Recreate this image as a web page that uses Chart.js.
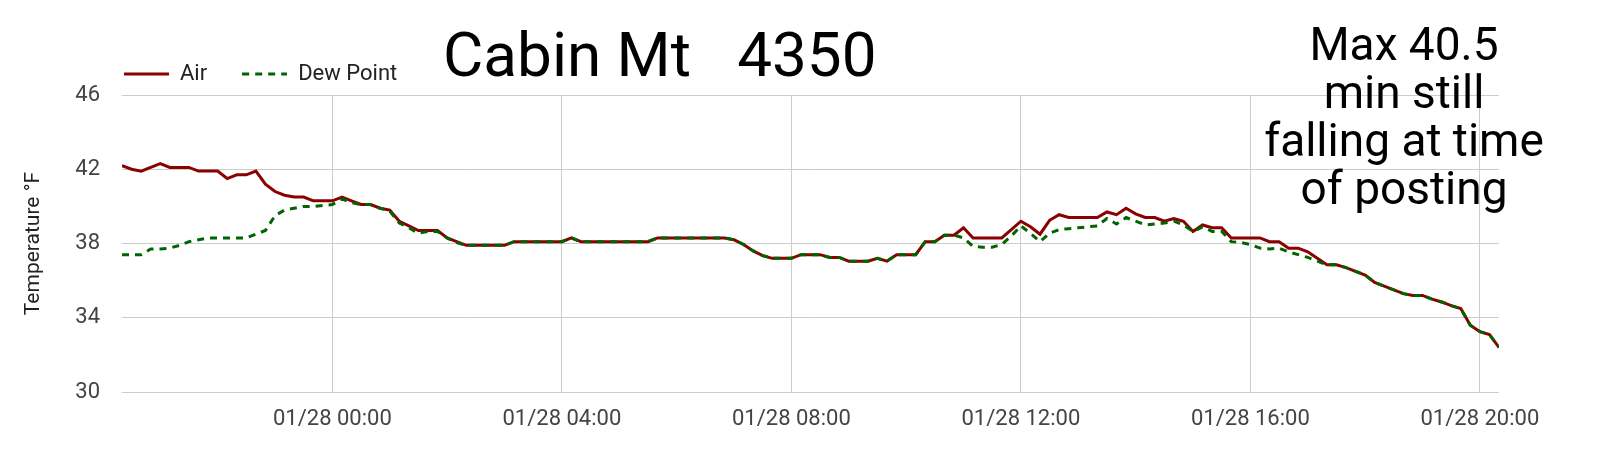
<!DOCTYPE html>
<html>
<head>
<meta charset="utf-8">
<title>Cabin Mt 4350</title>
<script src="https://cdn.jsdelivr.net/npm/chart.js@4/dist/chart.umd.min.js"></script>
<style>
    html, body { margin: 0; padding: 0; background: #fff; }
    #wrap { position: relative; width: 1600px; height: 459px; }
</style>
</head>
<body>
<div id="wrap"><canvas id="tempChart"></canvas></div>
<script>
// Cabin Mt 4350 - air / dew point, 10 minute samples

// first sample is 01/27 20:20, minutes are counted from 01/28 00:00
var START_MINUTE = -220;
var STEP_MINUTES = 10;

var airTemps = [
    42.2, 42.0, 41.9, 42.1, 42.3, 42.1, 42.1, 42.1, 41.9, 41.9, 41.9, 41.5,
    41.7, 41.7, 41.9, 41.2, 40.8, 40.6, 40.5, 40.5, 40.3, 40.3, 40.3, 40.5,
    40.3, 40.1, 40.1, 39.9, 39.8, 39.2, 38.95, 38.7, 38.7, 38.7, 38.3, 38.1,
    37.9, 37.9, 37.9, 37.9, 37.9, 38.1, 38.1, 38.1, 38.1, 38.1, 38.1, 38.3,
    38.1, 38.1, 38.1, 38.1, 38.1, 38.1, 38.1, 38.1, 38.3, 38.3, 38.3, 38.3,
    38.3, 38.3, 38.3, 38.3, 38.2, 37.95, 37.6, 37.35, 37.2, 37.2, 37.2, 37.4,
    37.4, 37.4, 37.25, 37.25, 37.05, 37.05, 37.05, 37.2, 37.05, 37.4, 37.4, 37.4,
    38.1, 38.1, 38.45, 38.45, 38.85, 38.3, 38.3, 38.3, 38.3, 38.75, 39.2, 38.9,
    38.5, 39.25, 39.55, 39.4, 39.4, 39.4, 39.4, 39.7, 39.55, 39.9, 39.6, 39.4,
    39.4, 39.2, 39.35, 39.2, 38.65, 39.0, 38.85, 38.85, 38.3, 38.3, 38.3, 38.3,
    38.1, 38.1, 37.75, 37.75, 37.55, 37.2, 36.85, 36.85, 36.7, 36.5, 36.3, 35.9,
    35.7, 35.5, 35.3, 35.2, 35.2, 35.0, 34.85, 34.65, 34.5, 33.6, 33.25, 33.1,
    32.4
];

var dewPoints = [
    37.4, 37.4, 37.4, 37.7, 37.7, 37.75, 37.9, 38.1, 38.2, 38.3, 38.3, 38.3,
    38.3, 38.3, 38.5, 38.7, 39.5, 39.8, 39.9, 40.0, 40.0, 40.05, 40.1, 40.4,
    40.2, 40.1, 40.1, 39.9, 39.75, 39.1, 38.85, 38.55, 38.65, 38.65, 38.3, 38.05,
    37.9, 37.9, 37.9, 37.9, 37.9, 38.1, 38.1, 38.1, 38.1, 38.1, 38.1, 38.3,
    38.1, 38.1, 38.1, 38.1, 38.1, 38.1, 38.1, 38.1, 38.3, 38.3, 38.3, 38.3,
    38.3, 38.3, 38.3, 38.3, 38.2, 37.95, 37.6, 37.35, 37.2, 37.2, 37.2, 37.4,
    37.4, 37.4, 37.25, 37.25, 37.05, 37.05, 37.05, 37.2, 37.05, 37.4, 37.4, 37.4,
    38.1, 38.1, 38.45, 38.45, 38.3, 37.85, 37.8, 37.8, 37.95, 38.4, 38.95, 38.55,
    38.1, 38.55, 38.75, 38.8, 38.85, 38.9, 38.95, 39.35, 39.05, 39.4, 39.2, 39.0,
    39.05, 39.1, 39.2, 39.0, 38.65, 38.9, 38.65, 38.65, 38.1, 38.05, 37.95, 37.75,
    37.7, 37.75, 37.55, 37.4, 37.25, 37.05, 36.85, 36.85, 36.7, 36.5, 36.3, 35.9,
    35.7, 35.5, 35.3, 35.2, 35.2, 35.0, 34.85, 34.65, 34.5, 33.6, 33.25, 33.1,
    32.4
];

var xTickMinutes = [0, 240, 480, 720, 960, 1200];
var xTickLabels = ['01/28 00:00', '01/28 04:00', '01/28 08:00', '01/28 12:00', '01/28 16:00', '01/28 20:00'];
var yTicks = [30, 34, 38, 42, 46];

var titleText = 'Cabin Mt   4350';
var noteLines = ['Max 40.5', 'min still', 'falling at time', 'of posting'];

var FONT = 'Roboto, "Noto Sans", sans-serif';
var AIR_COLOR = '#8b0000';
var DEW_COLOR = '#006400';
var DEW_DASH = [7, 6];

function toPoints(values) {
    return values.map(function (v, i) {
        return { x: START_MINUTE + i * STEP_MINUTES, y: v };
    });
}

// little line sample for the legend (pointStyle line ignores dashes)
function legendSwatch(color, dash) {
    var c = document.createElement('canvas');
    c.width = 45;
    c.height = 4;
    var g = c.getContext('2d');
    g.strokeStyle = color;
    g.lineWidth = 3;
    g.setLineDash(dash || []);
    g.beginPath();
    g.moveTo(0, 2);
    g.lineTo(45, 2);
    g.stroke();
    return c;
}

// title + note were pasted on top of the chart
var overlayText = {
    id: 'overlayText',
    afterLayout: function (chart) {
        // legend starts over the plot area, not at the canvas edge
        var lg = chart.legend;
        var pad = lg.options.labels.padding;
        var dx = 124 - (lg.left + pad);
        lg.left += dx;
        lg.right += dx;
    },
    afterDraw: function (chart) {
        var ctx = chart.ctx;
        ctx.save();
        ctx.fillStyle = '#000';
        ctx.textBaseline = 'alphabetic';
        ctx.textAlign = 'left';
        ctx.font = '62px ' + FONT;
        ctx.fillText(titleText, 443, 76);

        ctx.textAlign = 'center';
        ctx.font = '46px ' + FONT;
        for (var i = 0; i < noteLines.length; i++) {
            ctx.fillText(noteLines[i], 1404, 60 + i * 48);
        }
        ctx.restore();
    }
};

function initTempChart() {
    var ctx = document.getElementById('tempChart').getContext('2d');
    return new Chart(ctx, {
        type: 'line',
        data: {
            datasets: [{
                label: 'Dew Point',
                data: toPoints(dewPoints),
                borderColor: DEW_COLOR,
                backgroundColor: DEW_COLOR,
                borderWidth: 3,
                borderDash: DEW_DASH,
                pointRadius: 0,
                pointStyle: legendSwatch(DEW_COLOR, DEW_DASH),
                tension: 0,
                fill: false
            }, {
                label: 'Air',
                data: toPoints(airTemps),
                borderColor: AIR_COLOR,
                backgroundColor: AIR_COLOR,
                borderWidth: 3,
                pointRadius: 0,
                pointStyle: legendSwatch(AIR_COLOR),
                tension: 0,
                fill: false
            }]
        },
        options: {
            responsive: true,
            maintainAspectRatio: false,
            animation: false,
            layout: {
                padding: { top: 28, right: 101, bottom: 0, left: 0 }
            },
            plugins: {
                legend: {
                    position: 'top',
                    align: 'start',
                    reverse: true,
                    labels: {
                        usePointStyle: true,
                        pointStyleWidth: 45,
                        padding: 35,
                        color: '#222',
                        font: { family: FONT, size: 22 }
                    }
                },
                tooltip: { enabled: false }
            },
            scales: {
                x: {
                    type: 'linear',
                    min: START_MINUTE,
                    max: START_MINUTE + (airTemps.length - 1) * STEP_MINUTES,
                    border: { display: false },
                    grid: { color: '#cccccc', lineWidth: 1, drawTicks: false },
                    afterBuildTicks: function (scale) {
                        scale.ticks = xTickMinutes.map(function (v) { return { value: v }; });
                    },
                    afterFit: function (scale) {
                        scale.height = 67;
                    },
                    ticks: {
                        padding: 14,
                        maxRotation: 0,
                        autoSkip: false,
                        color: '#444',
                        font: { family: FONT, size: 22 },
                        callback: function (value) {
                            var idx = xTickMinutes.indexOf(value);
                            return idx >= 0 ? xTickLabels[idx] : '';
                        }
                    }
                },
                y: {
                    min: yTicks[0],
                    max: yTicks[yTicks.length - 1],
                    border: { display: false },
                    grid: { color: '#cccccc', lineWidth: 1, drawTicks: false },
                    afterBuildTicks: function (scale) {
                        scale.ticks = yTicks.map(function (v) { return { value: v }; });
                    },
                    afterFit: function (scale) {
                        scale.width = 122;
                    },
                    ticks: {
                        padding: 22,
                        color: '#444',
                        font: { family: FONT, size: 22 }
                    },
                    title: {
                        display: true,
                        text: 'Temperature °F',
                        color: '#222',
                        padding: { top: 21, bottom: 0 },
                        font: { family: FONT, size: 21 }
                    }
                }
            }
        },
        plugins: [overlayText]
    });
}

initTempChart();
</script>
</body>
</html>
